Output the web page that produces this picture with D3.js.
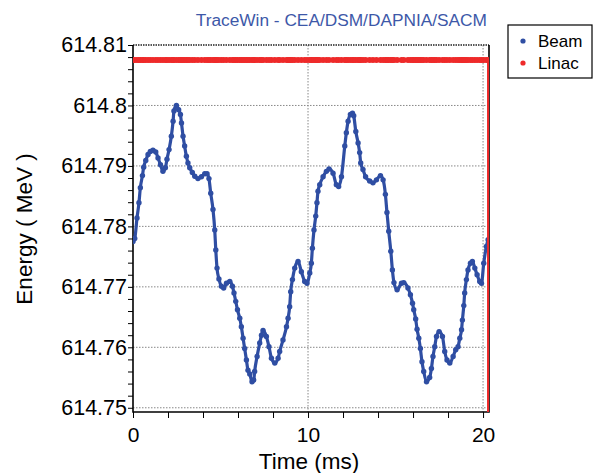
<!DOCTYPE html>
<html>
<head>
<meta charset="utf-8">
<script src="https://cdn.jsdelivr.net/npm/d3@7"></script>
<style>
  html, body { margin: 0; padding: 0; background: #fff; }
  svg { display: block; font-family: "Liberation Sans", Arial, sans-serif; }
</style>
</head>
<body>
<svg id="chart" width="596" height="473"></svg>
<script>
// Beam energy samples (time in ms, energy in MeV)
const beamTime = [
  0.00, 0.10, 0.23, 0.34, 0.42, 0.54, 0.61, 0.73, 0.86, 0.99,
  1.14, 1.30, 1.43, 1.57, 1.71, 1.85, 1.94, 2.06, 2.19, 2.29,
  2.34, 2.48, 2.61, 2.71, 2.77, 2.86, 2.95, 3.05, 3.14, 3.24,
  3.39, 3.53, 3.71, 3.91, 4.10, 4.23, 4.34, 4.44, 4.57, 4.67,
  4.73, 4.80, 4.91, 5.05, 5.18, 5.34, 5.53, 5.68, 5.77, 5.87,
  5.97, 6.10, 6.19, 6.29, 6.38, 6.48, 6.57, 6.67, 6.80, 6.90,
  6.95, 7.09, 7.24, 7.34, 7.43, 7.62, 7.77, 7.91, 8.10, 8.29,
  8.38, 8.57, 8.77, 8.86, 8.95, 9.01, 9.11, 9.24, 9.43, 9.62,
  9.81, 9.94, 10.10, 10.19, 10.25, 10.34, 10.44, 10.51, 10.57, 10.67,
  10.86, 11.05, 11.20, 11.43, 11.62, 11.75, 11.91, 12.10, 12.19, 12.29,
  12.42, 12.54, 12.61, 12.73, 12.86, 12.95, 13.01, 13.14, 13.29, 13.52,
  13.71, 13.91, 14.14, 14.29, 14.42, 14.51, 14.61, 14.73, 14.82, 14.91,
  15.09, 15.34, 15.47, 15.71, 15.85, 15.97, 16.04, 16.15, 16.23, 16.33,
  16.42, 16.51, 16.61, 16.77, 16.95, 17.05, 17.14, 17.24, 17.34, 17.49,
  17.68, 17.81, 17.94, 18.10, 18.29, 18.44, 18.57, 18.67, 18.77, 18.82,
  18.90, 18.95, 19.05, 19.14, 19.28, 19.39, 19.53, 19.66, 19.81, 19.91,
  20.04, 20.19, 20.29
];
const beamEnergy = [
  614.7775, 614.7780, 614.7814, 614.7839, 614.7864, 614.7884, 614.7898, 614.7909, 614.7919, 614.7924,
  614.7926, 614.7923, 614.7913, 614.7902, 614.7891, 614.7897, 614.7911, 614.7927, 614.7949, 614.7974,
  614.7991, 614.8000, 614.7993, 614.7985, 614.7971, 614.7949, 614.7933, 614.7916, 614.7905, 614.7897,
  614.7889, 614.7883, 614.7879, 614.7882, 614.7887, 614.7887, 614.7879, 614.7855, 614.7828, 614.7794,
  614.7761, 614.7731, 614.7713, 614.7701, 614.7698, 614.7706, 614.7709, 614.7701, 614.7690, 614.7676,
  614.7662, 614.7648, 614.7634, 614.7615, 614.7598, 614.7579, 614.7562, 614.7556, 614.7543, 614.7546,
  614.7560, 614.7585, 614.7607, 614.7620, 614.7628, 614.7618, 614.7601, 614.7582, 614.7574, 614.7582,
  614.7593, 614.7612, 614.7634, 614.7648, 614.7667, 614.7692, 614.7712, 614.7731, 614.7742, 614.7725,
  614.7709, 614.7706, 614.7723, 614.7739, 614.7764, 614.7794, 614.7817, 614.7839, 614.7858, 614.7869,
  614.7882, 614.7891, 614.7895, 614.7888, 614.7869, 614.7866, 614.7882, 614.7933, 614.7955, 614.7974,
  614.7985, 614.7987, 614.7983, 614.7957, 614.7938, 614.7922, 614.7905, 614.7894, 614.7882, 614.7875,
  614.7872, 614.7877, 614.7884, 614.7877, 614.7853, 614.7823, 614.7792, 614.7759, 614.7728, 614.7707,
  614.7695, 614.7706, 614.7707, 614.7698, 614.7687, 614.7673, 614.7662, 614.7647, 614.7630, 614.7615,
  614.7598, 614.7576, 614.7560, 614.7543, 614.7550, 614.7565, 614.7585, 614.7601, 614.7618, 614.7626,
  614.7618, 614.7593, 614.7579, 614.7574, 614.7585, 614.7596, 614.7601, 614.7615, 614.7629, 614.7645,
  614.7669, 614.7690, 614.7712, 614.7728, 614.7739, 614.7742, 614.7731, 614.7720, 614.7709, 614.7706,
  614.7739, 614.7767, 614.7778
];

// Linac reference energy: flat, then a drop at the end of the record
const linacTime = [0.00, 20.29, 20.29];
const linacEnergy = [614.8075, 614.8075, 614.70];

// Axis ticks
const xTickValues = [0, 10, 20];
const xTickLabels = ["0", "10", "20"];
const xMinorTicks = [0, 2, 4, 6, 8, 10, 12, 14, 16, 18, 20];
const yTickValues = [614.75, 614.76, 614.77, 614.78, 614.79, 614.80, 614.81];
const yTickLabels = ["614.75", "614.76", "614.77", "614.78", "614.79", "614.8", "614.81"];
const yMinorTicks = [];
for (let i = 0; i <= 30; i++) yMinorTicks.push(614.75 + i * 0.002);

const seriesNames = ["Beam", "Linac"];
const titleText = "TraceWin - CEA/DSM/DAPNIA/SACM";
const xTitle = "Time (ms)";
const yTitle = "Energy ( MeV )";

const beamColor = "#2f4ea3";
const linacColor = "#ee2a2a";

const plot = { left: 133, right: 489, top: 45, bottom: 412 };
const svg = d3.select("#chart");

const x = d3.scaleLinear().domain([0, 20.34]).range([plot.left, plot.right]);
const y = d3.scaleLinear().domain([614.7493, 614.81]).range([plot.bottom, plot.top]);

// Grid
const grid = svg.append("g");
grid.selectAll("line.gy").data(yTickValues.filter(v => v < 614.81)).join("line")
  .attr("x1", plot.left).attr("x2", plot.right)
  .attr("y1", d => y(d)).attr("y2", d => y(d))
  .attr("stroke", "#888").attr("stroke-width", 1).attr("stroke-dasharray", "1.5,1.5");
grid.selectAll("line.gx").data(xTickValues.filter(v => v > 0)).join("line")
  .attr("x1", d => x(d)).attr("x2", d => x(d))
  .attr("y1", plot.top).attr("y2", plot.bottom)
  .attr("stroke", "#888").attr("stroke-width", 1).attr("stroke-dasharray", "1.5,1.5");

// Frame: top edge dotted, others solid
svg.append("line")
  .attr("x1", plot.left).attr("x2", plot.right).attr("y1", y(614.81)).attr("y2", y(614.81))
  .attr("stroke", "#222").attr("stroke-width", 1.5).attr("stroke-dasharray", "1.5,1");
svg.append("path")
  .attr("d", `M${plot.left},${plot.top}V${plot.bottom}H${plot.right}V${plot.top}`)
  .attr("fill", "none").attr("stroke", "#000").attr("stroke-width", 1.6);

// Clip for the data
svg.append("clipPath").attr("id", "clip").append("rect")
  .attr("x", plot.left).attr("y", plot.top)
  .attr("width", plot.right - plot.left).attr("height", plot.bottom - plot.top);

const data = svg.append("g").attr("clip-path", "url(#clip)");

const beam = beamTime.map((t, i) => ({ t, v: beamEnergy[i] }));
const linac = linacTime.map((t, i) => ({ t, v: linacEnergy[i] }));

const line = d3.line().x(d => x(d.t)).y(d => y(d.v)).curve(d3.curveMonotoneX);

data.append("path").datum(beam)
  .attr("d", line).attr("fill", "none")
  .attr("stroke", beamColor).attr("stroke-width", 3.2).attr("stroke-linejoin", "round");
data.selectAll("circle.beam").data(beam).join("circle")
  .attr("class", "beam")
  .attr("cx", d => x(d.t)).attr("cy", d => y(d.v)).attr("r", 2.7)
  .attr("fill", beamColor);

// Linac: dense markers along the flat part, thin line for the drop
const linacLine = d3.line().x(d => x(d.t)).y(d => y(d.v));
data.append("path").datum(linac)
  .attr("d", linacLine).attr("fill", "none")
  .attr("stroke", linacColor).attr("stroke-width", 2.2);
const linacMarks = beamTime.map(t => ({ t, v: linacEnergy[0] }));
data.selectAll("circle.linac").data(linacMarks).join("circle")
  .attr("class", "linac")
  .attr("cx", d => x(d.t)).attr("cy", d => y(d.v)).attr("r", 3)
  .attr("fill", linacColor);

// Axes
const xAxis = d3.axisBottom(x).tickValues(xMinorTicks).tickSize(6)
  .tickFormat(d => { const i = xTickValues.indexOf(d); return i >= 0 ? xTickLabels[i] : ""; });
const gx = svg.append("g").attr("transform", `translate(0,${plot.bottom})`).call(xAxis);
gx.select(".domain").remove();
gx.selectAll(".tick line").attr("stroke", "#000").attr("stroke-width", 1);
gx.selectAll(".tick text").attr("font-size", 21).attr("fill", "#000")
  .attr("font-family", "Liberation Sans, Arial, sans-serif").attr("dy", "1.0em");

const yAxis = d3.axisLeft(y).tickValues(yMinorTicks).tickSize(5)
  .tickFormat(d => {
    const i = yTickValues.findIndex(v => Math.abs(v - d) < 1e-6);
    return i >= 0 ? yTickLabels[i] : "";
  });
const gy = svg.append("g").attr("transform", `translate(${plot.left},0)`).call(yAxis);
gy.select(".domain").remove();
gy.selectAll(".tick line").attr("stroke", "#000").attr("stroke-width", 1);
gy.selectAll(".tick text").attr("font-size", 21.5).attr("fill", "#000")
  .attr("font-family", "Liberation Sans, Arial, sans-serif").attr("x", -6);

// Axis titles
svg.append("text").attr("x", 309).attr("y", 469).attr("text-anchor", "middle")
  .attr("font-size", 22.5).attr("fill", "#000").text(xTitle);
svg.append("text").attr("transform", "translate(32,229) rotate(-90)")
  .attr("text-anchor", "middle").attr("font-size", 22.5).attr("fill", "#000").text(yTitle);

// Title
svg.append("text").attr("x", 487).attr("y", 26).attr("text-anchor", "end")
  .attr("font-size", 17.3).attr("fill", "#3d58a8").text(titleText);

// Legend
const legend = svg.append("g");
legend.append("rect").attr("x", 508).attr("y", 25).attr("width", 84).attr("height", 53)
  .attr("fill", "#fff").attr("stroke", "#000").attr("stroke-width", 1.2);
const legendColors = [beamColor, linacColor];
seriesNames.forEach((name, i) => {
  legend.append("circle").attr("cx", 523).attr("cy", 41 + i * 22).attr("r", 2.6)
    .attr("fill", legendColors[i]);
  legend.append("text").attr("x", 538).attr("y", 47 + i * 22)
    .attr("font-size", 17).attr("fill", "#000").text(name);
});
</script>
</body>
</html>
